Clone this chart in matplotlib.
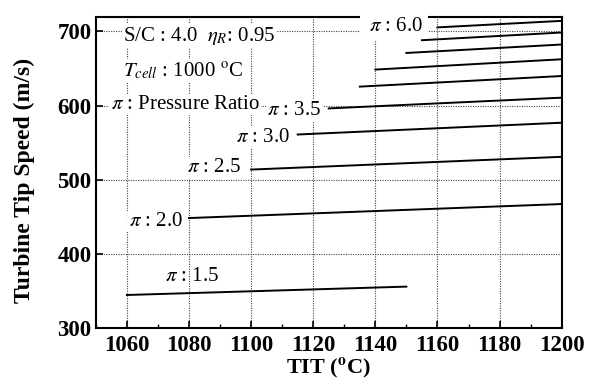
import matplotlib
matplotlib.use("Agg")
import matplotlib.pyplot as plt
from matplotlib.ticker import MultipleLocator

plt.rcParams['font.family'] = ['Liberation Serif', 'DejaVu Serif']
plt.rcParams['mathtext.fontset'] = 'stix'

# Data: pressure ratio curves (TIT start/end, tip speed start/end)
pi_labels = ["6.0", "5.5", "5.0", "4.5", "4.0", "3.5", "3.0", "2.5", "2.0", "1.5"]
tit_start = [1160, 1155, 1150, 1140, 1135, 1125, 1115, 1100, 1080, 1060]
tit_end = [1200, 1200, 1200, 1200, 1200, 1200, 1200, 1200, 1200, 1150]
speed_start = [705.5, 688.2, 671.0, 648.6, 625.6, 596.2, 561.0, 513.7, 448.3, 344.5]
speed_end = [714.3, 698.6, 682.4, 662.5, 639.9, 610.7, 576.9, 530.9, 467.2, 355.8]

x_ticks = [1060, 1080, 1100, 1120, 1140, 1160, 1180, 1200]
y_ticks = [300, 400, 500, 600, 700]

fig = plt.figure(figsize=(5.99, 3.87), dpi=100)
ax = fig.add_axes([0.16, 0.1525, 0.7777, 0.8045])

for xs, xe, ys, ye in zip(tit_start, tit_end, speed_start, speed_end):
    ax.plot([xs, xe], [ys, ye], color='black', lw=1.4, zorder=3)

ax.set_xlim(1050, 1200)
ax.set_ylim(300, 720)
ax.set_xticks(x_ticks)
ax.set_yticks(y_ticks)
ax.xaxis.set_minor_locator(MultipleLocator(10))
ax.tick_params(which='both', direction='in', top=False, right=False)
ax.tick_params(which='major', length=5, width=1.2)
ax.tick_params(which='minor', length=3, width=1.0)
ax.tick_params(axis='both', labelsize=16.5)
ax.tick_params(axis='x', pad=5)
ax.tick_params(axis='y', pad=3)
for lab in ax.get_xticklabels() + ax.get_yticklabels():
    lab.set_fontweight('bold')
ax.grid(True, which='major', linestyle=(0, (1, 1.2)), color='#444444', lw=0.8, zorder=1)
for s in ax.spines.values():
    s.set_linewidth(1.5)

ax.set_xlabel(r'TIT ($^{\mathbf{o}}$C)', fontsize=16, fontweight='bold', labelpad=0)
ax.set_ylabel('Turbine Tip Speed (m/s)', fontsize=17, fontweight='bold')
ax.yaxis.set_label_coords(-0.13, 0.475)

wb = dict(facecolor='white', edgecolor='none', pad=1.0)
fs = 15
# label positions in data coordinates
lab_x = [1146.0, None, None, None, None, 1122.6, 1112.4, 1096.9, 1078.0, 1080.9]
lab_y = [707.0, None, None, None, None, 593.0, 557.0, 516.4, 443.7, 370.0]
for i, lbl in enumerate(pi_labels):
    if lab_x[i] is None:
        continue
    if i == 0:
        ax.text(lab_x[i], lab_y[i], r' $\pi$ : ' + lbl, fontsize=fs, ha='center', va='center',
                bbox=dict(facecolor='white', edgecolor='none', pad=3), zorder=2.8, clip_on=False)
    elif i == 9:
        ax.text(lab_x[i], lab_y[i], r'$\pi$ : ' + lbl, fontsize=fs, ha='center', va='center',
                zorder=5)
    else:
        ax.text(lab_x[i], lab_y[i], r'$\pi$ : ' + lbl, fontsize=fs, ha='right', va='center',
                bbox=wb, zorder=5)

ax.text(1058.8, 694, r'S/C : 4.0  $\eta_R$: 0.95', fontsize=fs, ha='left', va='center', bbox=wb, zorder=5)
ax.text(1058.8, 646.7, r'$T_{cell}$ : 1000 $^{\rm o}$C', fontsize=fs, ha='left', va='center', bbox=wb, zorder=5)
ax.text(1054.8, 601.5, r'$\pi$ : Pressure Ratio', fontsize=fs, ha='left', va='center', bbox=wb, zorder=5)

fig.savefig('out.png', dpi=100)
